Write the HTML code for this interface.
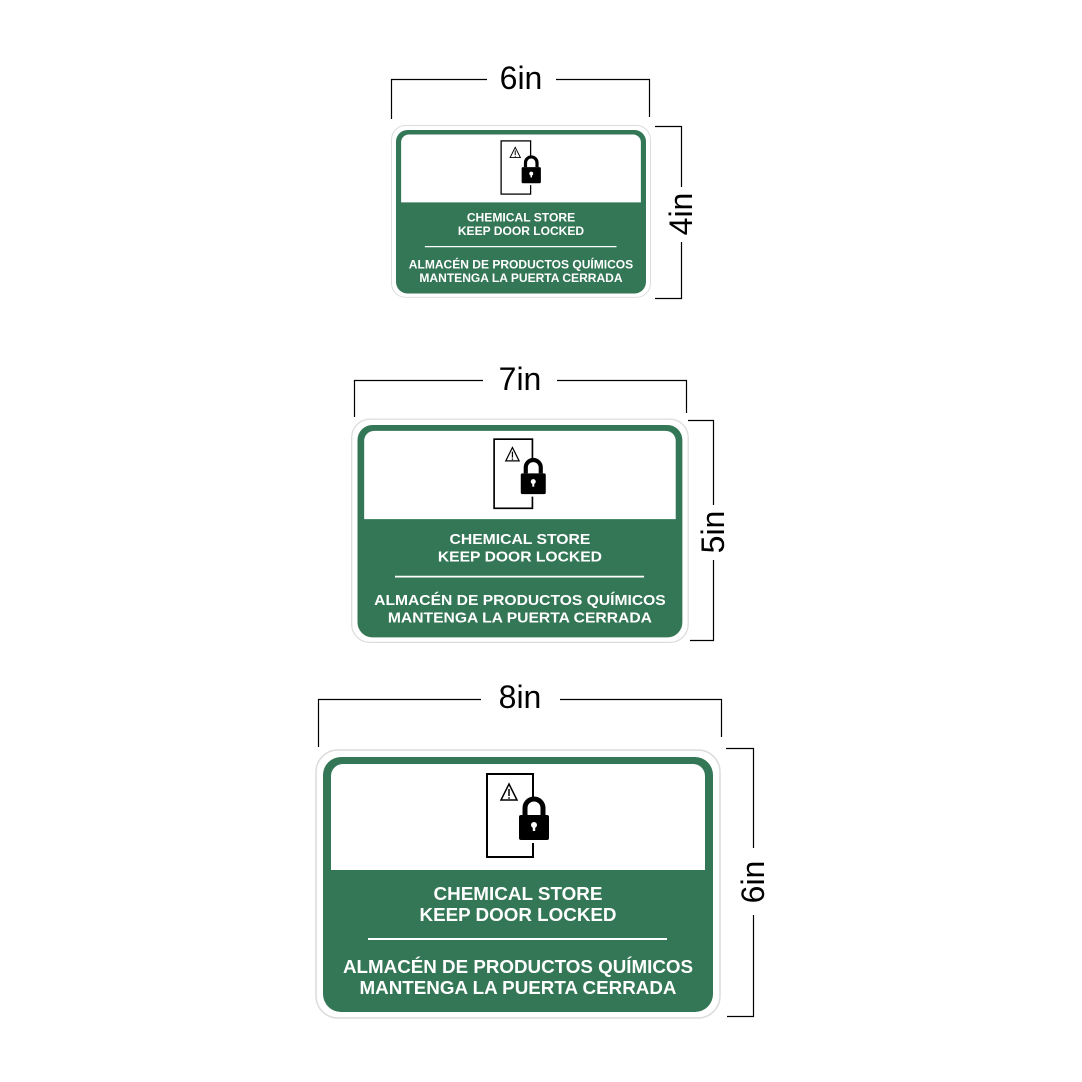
<!DOCTYPE html>
<html><head><meta charset="utf-8"><style>html,body{margin:0;padding:0;background:#fff}svg{display:block}</style></head>
<body>
<svg width="1082" height="1082" viewBox="0 0 1082 1082" xmlns="http://www.w3.org/2000/svg">
<defs>
<g id="sign">
  <rect x="-7" y="-7" width="404" height="268" rx="22" fill="#fff" stroke="#dcdcdc" stroke-width="1.5"/>
  <rect x="0" y="0" width="390" height="255" rx="18" fill="#347756"/>
  <path d="M8 113 V19 A12 12 0 0 1 20 7 H370 A12 12 0 0 1 382 19 V113 Z" fill="#fff"/>
  <rect x="164" y="17" width="46" height="83" fill="none" stroke="#000" stroke-width="2"/>
  <rect x="193" y="40" width="36" height="46" fill="#fff"/>
  <path d="M202 58 V51 a9 9 0 0 1 18 0 V58" fill="none" stroke="#000" stroke-width="5"/>
  <rect x="196" y="58" width="30" height="25" rx="2" fill="#000"/>
  <circle cx="211" cy="68" r="3" fill="#fff"/>
  <rect x="209.8" y="68" width="2.4" height="6" fill="#fff"/>
  <path d="M186 27 L194 43 L178 43 Z" fill="none" stroke="#000" stroke-width="1.5"/>
  <line x1="186" y1="32" x2="186" y2="39" stroke="#000" stroke-width="1.5"/>
  <circle cx="186" cy="41" r="0.9" fill="#000"/>
  <g font-family="Liberation Sans, Arial, sans-serif" font-weight="bold" font-size="18" fill="#fff" text-anchor="middle">
    <text x="195" y="143" textLength="169" lengthAdjust="spacingAndGlyphs">CHEMICAL STORE</text>
    <text x="195" y="164" textLength="197" lengthAdjust="spacingAndGlyphs">KEEP DOOR LOCKED</text>
    <text x="195" y="216" textLength="350" lengthAdjust="spacingAndGlyphs">ALMACÉN DE PRODUCTOS QUÍMICOS</text>
    <text x="195" y="237" textLength="317" lengthAdjust="spacingAndGlyphs">MANTENGA LA PUERTA CERRADA</text>
  </g>
  <line x1="45" y1="182" x2="344" y2="182" stroke="#fff" stroke-width="2"/>
</g>
</defs>

<use href="#sign" transform="translate(396,130) scale(0.641)"/>
<use href="#sign" transform="translate(357.5,425) scale(0.833)"/>
<use href="#sign" transform="translate(323,757)"/>

<g fill="none" stroke="#000" stroke-width="1.2">
  <path d="M391.5 119 V79.5 H487 M556 79.5 H649.5 V117"/>
  <path d="M655 126.5 H681.5 V187 M681.5 242 V298.5 H655"/>
  <path d="M354.5 417 V380.5 H483 M557 380.5 H686.5 V413"/>
  <path d="M688 420.5 H713.5 V505 M713.5 560 V640.5 H690"/>
  <path d="M318.5 747 V699.5 H481 M560 699.5 H721.5 V737"/>
  <path d="M726 748.5 H753.5 V848 M753.5 915 V1016.5 H727"/>
</g>
<g font-family="Liberation Sans, Arial, sans-serif" font-size="32" fill="#000" text-anchor="middle">
  <text x="521" y="89">6in</text>
  <text x="520" y="390">7in</text>
  <text x="520" y="708">8in</text>
  <text transform="translate(692,214) rotate(-90)">4in</text>
  <text transform="translate(724,532) rotate(-90)">5in</text>
  <text transform="translate(764,882) rotate(-90)">6in</text>
</g>
</svg>
</body></html>
